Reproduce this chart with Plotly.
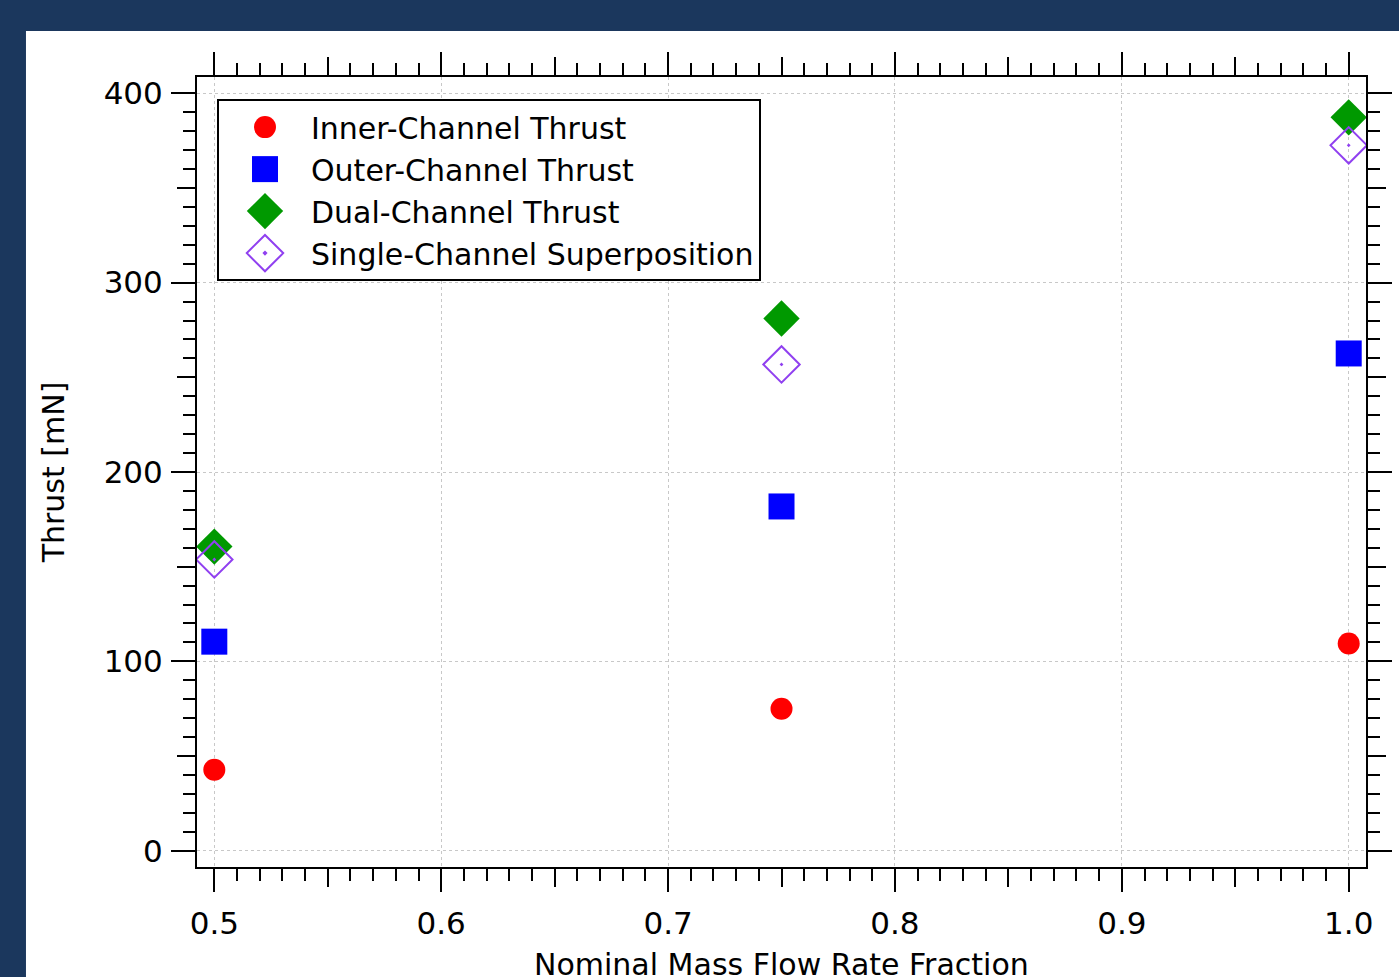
import plotly.graph_objects as go

# ---- data ----
flow_fraction = [0.5, 0.75, 1.0]
inner_thrust = [42.8, 75.0, 109.4]
outer_thrust = [110.4, 181.8, 262.6]
dual_thrust = [160.6, 281.1, 387.3]
superposition = [153.8, 256.8, 372.5]

x_major = [0.5, 0.6, 0.7, 0.8, 0.9, 1.0]
x_mid = [0.55, 0.65, 0.75, 0.85, 0.95]
y_major = [0, 100, 200, 300, 400]
y_mid = [50, 150, 250, 350]

XR = [0.49237, 1.00762]
YR = [-8.6, 408.6]

FONT = "DejaVu Sans"
NAVY = "#1b375d"
MARKER_SIZES = [22, 26, 28, 28]

fig = go.Figure()

fig.add_trace(go.Scatter(x=flow_fraction, y=inner_thrust, mode="markers",
                         name="Inner-Channel Thrust",
                         marker=dict(symbol="circle", size=MARKER_SIZES[0], color="#ff0000")))
fig.add_trace(go.Scatter(x=flow_fraction, y=outer_thrust, mode="markers",
                         name="Outer-Channel Thrust",
                         marker=dict(symbol="square", size=MARKER_SIZES[1], color="#0000ff")))
fig.add_trace(go.Scatter(x=flow_fraction, y=dual_thrust, mode="markers",
                         name="Dual-Channel Thrust",
                         marker=dict(symbol="diamond", size=MARKER_SIZES[2], color="#009900")))
fig.add_trace(go.Scatter(x=flow_fraction, y=superposition, mode="markers",
                         name="Single-Channel Superposition",
                         marker=dict(symbol="diamond-open-dot", size=MARKER_SIZES[3], color="#9040f0",
                                     line=dict(width=2, color="#9040f0"))))

# hidden helper traces to activate the medium-tick overlay axes
fig.add_trace(go.Scatter(x=flow_fraction, y=inner_thrust, xaxis="x2", yaxis="y",
                         mode="markers", marker=dict(opacity=0), showlegend=False,
                         hoverinfo="skip"))
fig.add_trace(go.Scatter(x=flow_fraction, y=inner_thrust, xaxis="x", yaxis="y2",
                         mode="markers", marker=dict(opacity=0), showlegend=False,
                         hoverinfo="skip"))

tickfont = dict(family=FONT, size=31, color="black")

fig.update_layout(
    width=1399, height=977,
    paper_bgcolor=NAVY, plot_bgcolor="white",
    margin=dict(l=197, r=33, t=77, b=110, autoexpand=False),
    font=dict(family=FONT, color="black"),
    showlegend=True,
    legend=dict(x=0.0171, y=0.972, xanchor="left", yanchor="top",
                bgcolor="white", bordercolor="black", borderwidth=2,
                font=dict(family=FONT, size=30, color="black"),
                itemsizing="constant", itemwidth=82),
    xaxis=dict(range=XR, tickvals=x_major, tickformat=".1f", automargin=False,
               ticks="outside", ticklen=23, tickwidth=2, tickcolor="black",
               showline=True, linewidth=2, linecolor="black", mirror="ticks",
               showgrid=True, gridcolor="#c8c8c8", gridwidth=1, griddash="dot",
               zeroline=False, tickfont=tickfont, ticklabelstandoff=5,
               minor=dict(dtick=0.01, tick0=0.5, ticks="outside", ticklen=12,
                          tickwidth=2, tickcolor="black", showgrid=False)),
    yaxis=dict(range=YR, tickvals=y_major, automargin=False,
               ticks="outside", ticklen=24, tickwidth=2, tickcolor="black",
               showline=True, linewidth=2, linecolor="black", mirror="ticks",
               showgrid=True, gridcolor="#c8c8c8", gridwidth=1, griddash="dot",
               zeroline=False, tickfont=tickfont, ticklabelstandoff=2,
               minor=dict(dtick=10, tick0=0, ticks="outside", ticklen=12,
                          tickwidth=2, tickcolor="black", showgrid=False),
               title=dict(text="Thrust [mN]",
                          font=dict(family=FONT, size=30, color="black"),
                          standoff=30)),
    xaxis2=dict(overlaying="x", anchor="y", side="bottom", range=XR, automargin=False,
                tickvals=x_mid, ticks="outside", ticklen=18, tickwidth=2,
                tickcolor="black", showticklabels=False, showgrid=False,
                zeroline=False, showline=True, linewidth=2, linecolor="black",
                mirror="ticks"),
    yaxis2=dict(overlaying="y", anchor="x", side="left", range=YR, automargin=False,
                tickvals=y_mid, ticks="outside", ticklen=18, tickwidth=2,
                tickcolor="black", showticklabels=False, showgrid=False,
                zeroline=False, showline=True, linewidth=2, linecolor="black",
                mirror="ticks"),
    annotations=[dict(text="Nominal Mass Flow Rate Fraction", xref="paper", yref="paper",
                      x=0.5, y=-0.124, xanchor="center", yanchor="middle",
                      showarrow=False,
                      font=dict(family=FONT, size=30, color="black"))],
    shapes=[dict(type="rect", xref="paper", yref="paper",
                 x0=-0.1463, x1=1.2, y0=-0.3, y1=1.0582,
                 fillcolor="white", line=dict(width=0), layer="below")],
)

scales = ",".join(str(s / 12.0) for s in MARKER_SIZES)
post = """
document.body.style.margin = '0';
var gd = document.getElementById('{plot_id}');
function fixLegend() {
  var scales = [%s];
  var items = gd.querySelectorAll('.legend .traces');
  items.forEach(function(t, i) {
    t.querySelectorAll('.legendpoints path.scatterpts').forEach(function(p) {
      var tr = (p.getAttribute('transform') || '').replace(/\\s*scale\\([^)]*\\)/, '');
      p.setAttribute('transform', tr + ' scale(' + scales[i] + ')');
      p.style.vectorEffect = 'non-scaling-stroke';
    });
  });
}
fixLegend();
gd.on('plotly_afterplot', fixLegend);
""" % scales

fig.write_html("out.html", post_script=post, config={"displayModeBar": False})
